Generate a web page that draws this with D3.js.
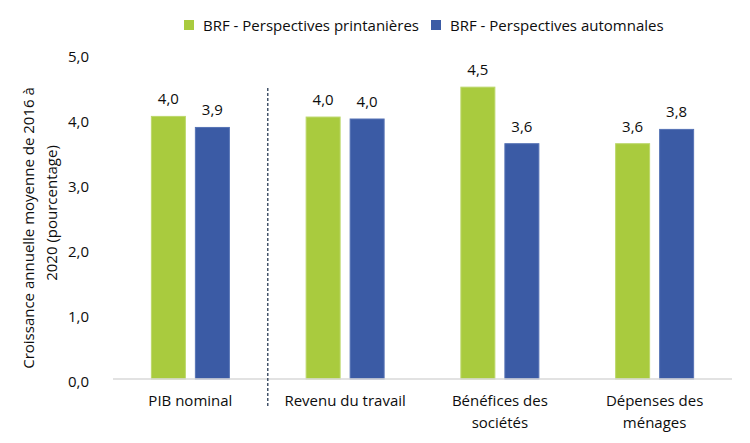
<!DOCTYPE html>
<html>
<head>
<meta charset="utf-8">
<script src="https://cdn.jsdelivr.net/npm/d3@7"></script>
<style>
  body { margin: 0; background: #fff; }
  svg text { font-family: "Segoe UI", "Open Sans", sans-serif; fill: #0d0d0d; }
</style>
</head>
<body>
<div id="chart"></div>
<script>
// data
var categories = [["PIB nominal"], ["Revenu du travail"], ["Bénéfices des", "sociétés"], ["Dépenses des", "ménages"]];
var seriesNames = ["BRF - Perspectives printanières", "BRF - Perspectives automnales"];
var printemps = [4.04, 4.03, 4.49, 3.62];
var automne = [3.87, 4.00, 3.62, 3.84];
var yTicks = [0, 1, 2, 3, 4, 5];
var yTitle = ["Croissance annuelle moyenne de 2016 à", "2020 (pourcentage)"];

var colors = ["#a9cb3e", "#3b5ba5"];
var strokes = ["#bcd86a", "#5673b5"];
var width = 750, height = 443;
var margin = { top: 54, right: 18, bottom: 64, left: 113 };

var rows = categories.map(function (c, i) {
  return { key: c.join(" "), lines: c, values: [printemps[i], automne[i]] };
});

var svg = d3.select("#chart").append("svg")
  .attr("width", width).attr("height", height);

var x0 = d3.scaleBand()
  .domain(rows.map(function (d) { return d.key; }))
  .range([margin.left, width - margin.right])
  .padding(0);
var bw = x0.bandwidth();
var x1 = d3.scaleBand()
  .domain(seriesNames)
  .range([bw / 2 - 39, bw / 2 + 39])
  .paddingInner(0.2273);
var y = d3.scaleLinear().domain([0, 5]).range([height - margin.bottom, margin.top]);

var fmt = function (v) { return d3.format(".1f")(v).replace(".", ","); };

// y axis (labels only)
var yAxis = svg.append("g")
  .attr("transform", "translate(" + margin.left + ",0)")
  .call(d3.axisLeft(y).tickValues(yTicks).tickFormat(fmt).tickSize(0).tickPadding(24));
yAxis.select(".domain").remove();
yAxis.selectAll("text").style("font-size", "15px").attr("dy", "0.5em").attr("fill", "#0d0d0d");

// y title
svg.append("g").selectAll("text").data(yTitle).join("text")
  .attr("transform", function (d, i) {
    var cy = i === 0 ? 228 : 213;
    return "translate(" + (34 + i * 23) + "," + cy + ") rotate(-90)";
  })
  .attr("text-anchor", "middle")
  .style("font-size", "15px")
  .text(function (d) { return d; });

// bars
var group = svg.append("g").selectAll("g").data(rows).join("g")
  .attr("transform", function (d) { return "translate(" + x0(d.key) + ",0)"; });

group.selectAll("rect").data(function (d) {
  return d.values.map(function (v, i) { return { s: seriesNames[i], v: v, i: i }; });
}).join("rect")
  .attr("x", function (d) { return x1(d.s); })
  .attr("y", function (d) { return y(d.v); })
  .attr("width", x1.bandwidth())
  .attr("height", function (d) { return y(0) - y(d.v); })
  .attr("fill", function (d) { return colors[d.i]; })
  .attr("stroke", function (d) { return strokes[d.i]; })
  .attr("stroke-width", 1);

group.selectAll("text.val").data(function (d) {
  return d.values.map(function (v, i) { return { s: seriesNames[i], v: v }; });
}).join("text")
  .attr("class", "val")
  .attr("x", function (d) { return x1(d.s) + x1.bandwidth() / 2; })
  .attr("y", function (d) { return y(d.v) - 12; })
  .attr("text-anchor", "middle")
  .style("font-size", "15px")
  .text(function (d) { return fmt(d.v); });

// x axis line
svg.append("line")
  .attr("x1", margin.left).attr("x2", width - margin.right)
  .attr("y1", y(0)).attr("y2", y(0))
  .attr("stroke", "#d9d9d9").attr("stroke-width", 1.5);

// category labels
group.append("text")
  .attr("text-anchor", "middle")
  .style("font-size", "15px")
  .selectAll("tspan").data(function (d) { return d.lines; }).join("tspan")
  .attr("x", bw / 2)
  .attr("y", function (d, i) { return y(0) + 27 + i * 22; })
  .text(function (d) { return d; });

// dashed separator after the first category
svg.append("line")
  .attr("x1", x0(rows[1].key)).attr("x2", x0(rows[1].key))
  .attr("y1", 88).attr("y2", 407)
  .attr("stroke", "#44546a").attr("stroke-width", 1.5)
  .attr("stroke-dasharray", "3,2");

// legend
var legendX = [184, 431];
var legend = svg.append("g").selectAll("g").data(seriesNames).join("g")
  .attr("transform", function (d, i) { return "translate(" + legendX[i] + ",20)"; });
legend.append("rect").attr("width", 10).attr("height", 10)
  .attr("fill", function (d, i) { return colors[i]; });
legend.append("text").attr("x", 19).attr("y", 10.5)
  .style("font-size", "15px")
  .text(function (d) { return d; });
</script>
</body>
</html>
